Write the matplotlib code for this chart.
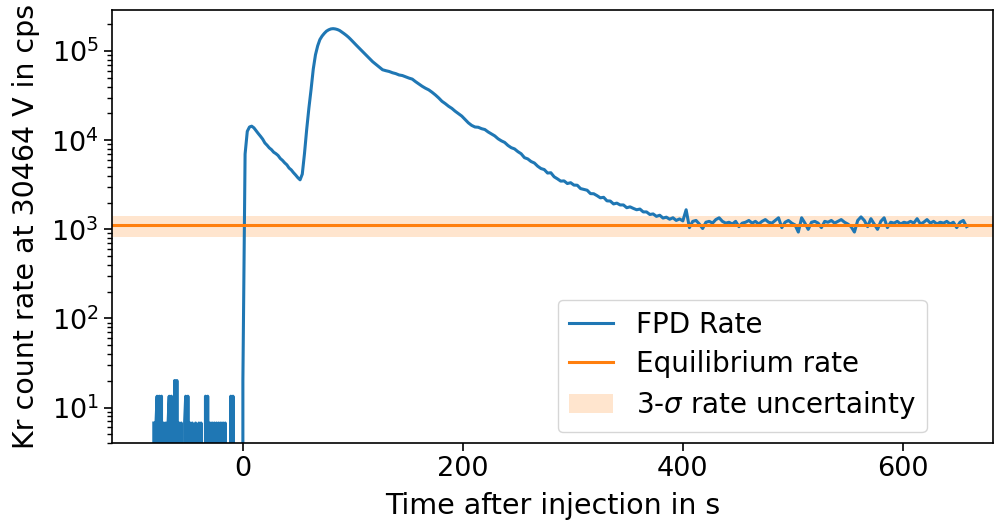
import numpy as np
import matplotlib
matplotlib.use("Agg")
import matplotlib.pyplot as plt

# ---------------- data ----------------
# pre-injection: detector counts per bin (1 s spacing), converted with count_unit
count_unit = 6.7
pre_counts = [1, 0, 1, 2, 0, 2, 0, 2, 0, 1, 0, 1, 0, 1, 2, 0, 2, 0, 0, 3,
              0, 3, 0, 1, 0, 1, 0, 0, 1, 2, 0, 2, 0, 1, 0, 1, 0, 0, 1, 0,
              0, 1, 0, 1, 0, 0, 0, 2, 0, 2, 0, 1, 0, 1, 0, 1, 0, 1, 0, 1,
              0, 1, 0, 1, 0, 1, 0, 0, 0, 0, 2, 0, 2, 0, 0, 0, 0, 0, 0, 0,
              0]
pre_start = -81

# post-injection, 2 s spacing from t = 0
post_rate_a = [20, 7000, 12600, 14100, 14400, 13800, 12800, 11900, 11100, 10300,
               9330, 8800, 8220, 7850, 7350, 7080, 6750, 6250, 5950, 5580,
               5300, 4880, 4650, 4330, 4070, 3800, 3600, 4170, 7080, 13200,
               22900, 37200, 63100, 91200, 114800, 134900, 147900, 158500, 167900, 173800,
               177800, 179100, 177800, 175000, 170600, 164100, 157400, 150700, 143600, 135800]
# post-injection, 3 s spacing from t = 100
post_rate_b = [127900, 117200, 107400, 98600, 90600, 83000, 76200, 71100, 66400, 61900,
               60400, 59200, 57300, 56000, 54100, 53300, 51600, 49900, 48600, 45500,
               42900, 40400, 38400, 36800, 34600, 32300, 29900, 27400, 25800, 24100,
               22800, 21200, 19900, 18700, 17100, 15700, 14700, 14100, 14000, 13500,
               13200, 12400, 11800, 11200, 10400, 9860, 9460, 8750, 8260, 8000,
               7460, 7060, 6380, 6180, 5780, 5560, 5120, 4820, 4690, 4290,
               4320, 3890, 3690, 3480, 3500, 3270, 3340, 3140, 3130, 2870,
               2810, 2750, 2520, 2510, 2390, 2260, 2290, 2090, 2080, 1930,
               1970, 1880, 1880, 1750, 1790, 1720, 1660, 1690, 1570, 1570,
               1470, 1490, 1400, 1440, 1340, 1370, 1300, 1350, 1260, 1310,
               1245, 1660, 1047,
               1230, 1259, 1148, 1023, 1202, 1230, 1175, 1288, 1349, 1230,
               1175, 1202, 1148, 1230, 1072, 1175, 1202, 1259, 1175, 1230,
               1148, 1230, 1288, 1202, 1175, 1259, 1349, 1047, 1202, 1259,
               1175, 1122, 933, 1349, 1175, 1000, 1202, 1230, 1175, 1047,
               1230, 1202, 1259, 1175, 1230, 1288, 1202, 1148, 1072, 933,
               1259, 1380, 1259, 1072, 1318, 1148, 1000, 1230, 1349, 1047,
               1202, 1175, 1230, 1148, 1202, 1175, 1230, 1175, 1318, 1148,
               1202, 1288, 1175, 1230, 1148, 1202, 1175, 1230, 1148, 1202,
               1047, 1202, 1259, 1072]

eq_rate = 1120.0
eq_sigma3 = 298.0

series_labels = ["FPD Rate", "Equilibrium rate", r"3-$\sigma$ rate uncertainty"]
x_label = "Time after injection in s"
y_label = "Kr count rate at 30464 V in cps"

# ---------------- assemble ----------------
pre_time = pre_start + np.arange(len(pre_counts))
pre_rate = np.array(pre_counts, dtype=float) * count_unit
t_a = 0 + 2 * np.arange(len(post_rate_a))
t_b = 100 + 3 * np.arange(len(post_rate_b))
time = np.concatenate([pre_time, t_a, t_b])
rate = np.concatenate([pre_rate, np.array(post_rate_a, float), np.array(post_rate_b, float)])

# ---------------- plot ----------------
plt.rcParams['font.family'] = ['DejaVu Sans']
fs_tick = 19.5
fs_label = 20.5
fs_leg = 20
fig = plt.figure(figsize=(9.94, 5.23), dpi=100)
ax = fig.add_axes([112 / 994, 1 - 443 / 523, (993 - 112) / 994, (443 - 10) / 523])

blue = '#1f77b4'
orange = '#ff7f0e'
ax.plot(time, rate, color=blue, lw=2.2, label=series_labels[0])
ax.set_yscale('log', nonpositive='clip')
ax.axhline(eq_rate, color=orange, lw=2.2, label=series_labels[1])
ax.axhspan(eq_rate - eq_sigma3, eq_rate + eq_sigma3, color=orange, alpha=0.2, lw=0,
           label=series_labels[2])

ax.set_xlim(-119, 682)
ax.set_ylim(4.0, 2.9e5)
ax.set_xticks([0, 200, 400, 600])
ax.tick_params(labelsize=fs_tick, length=6, width=1.2)
ax.tick_params(which='minor', length=3.5, width=1.0)
for sp in ax.spines.values():
    sp.set_linewidth(1.2)
ax.set_xlabel(x_label, fontsize=fs_label, labelpad=7)
ax.set_ylabel(y_label, fontsize=fs_label, labelpad=8)

ax.legend(loc='lower left', bbox_to_anchor=(0.506, 0.025), borderaxespad=0,
          fontsize=fs_leg, handlelength=1.6, labelspacing=0.4)

fig.savefig('out.png', dpi=100)
